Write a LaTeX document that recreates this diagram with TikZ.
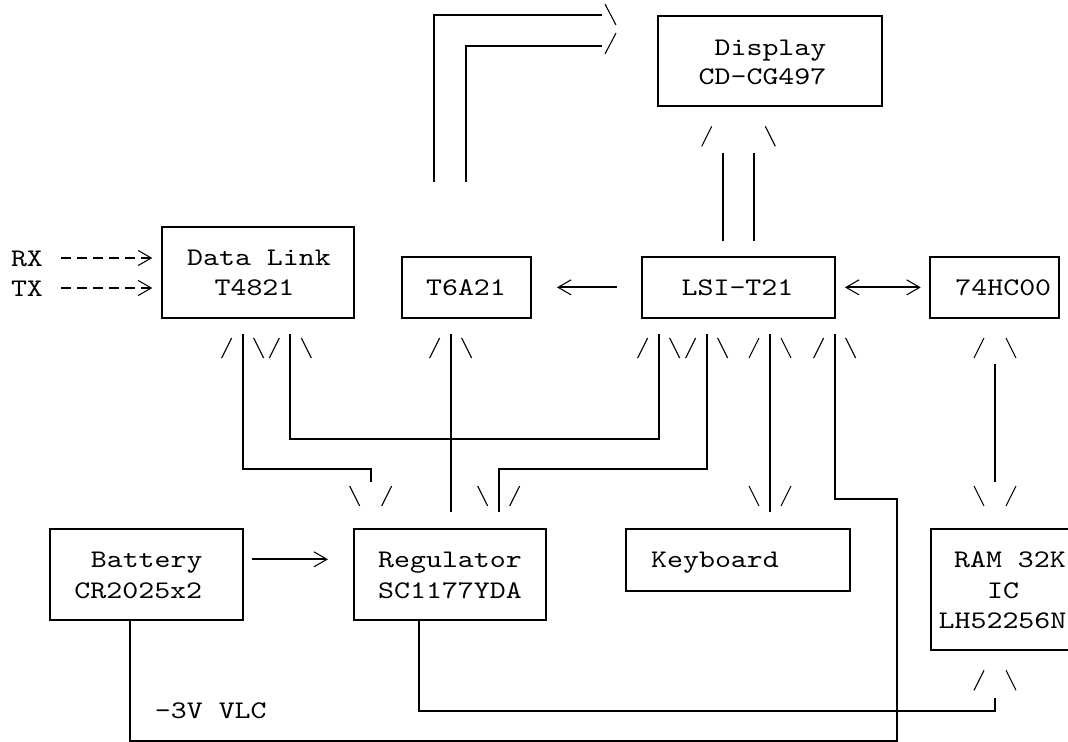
\documentclass[tikz,border=0pt]{standalone}
\usepackage{fontspec}
\newfontfamily\asciifont[Extension=.otf,FakeStretch=1.2]{lmmono10-regular}
\usetikzlibrary{fit,arrows.meta}
\tikzset{
 boxst/.style={draw, line width=1.5pt, inner sep=0pt, rectangle},
 wire/.style={draw, line width=1.5pt},
 slash/.style={line width=0.8pt},
 txt/.style={anchor=base, inner sep=0pt, font=\asciifont\fontsize{19pt}{22pt}\selectfont},
 chev/.tip={Straight Barb[length=9.75pt,width=11.25pt,line width=0.8pt]},
 dashwire/.style={line width=0.8pt, dash pattern=on 7.5pt off 4.5pt},
 uphead/.pic={\draw[slash] (-21,39.3) -- (-11,19.3) (11,19.3) -- (21,39.3);},
 widehead/.pic={\draw[slash] (-21,39.3) -- (-11,19.3) (#1+11,19.3) -- (#1+21,39.3);},
 dnhead/.pic={\draw[slash] (-21,-42) -- (-11,-22) (11,-22) -- (21,-42);},
}
\begin{document}
\begin{tikzpicture}[x=0.75pt,y=-0.75pt]
\useasboundingbox (0,0) rectangle (1068,742);
\clip (0,0) rectangle (1068,742);

% column / row helper coordinates
\coordinate (cA) at (242.7,0);
\coordinate (cB) at (290.3,0);
\coordinate (cC) at (370.7,0);
\coordinate (cT) at (450.7,0);
\coordinate (cD) at (498.7,0);
\coordinate (cE) at (658.7,0);
\coordinate (cF) at (706.7,0);
\coordinate (cG) at (770,0);
\coordinate (cH) at (834.7,0);
\coordinate (cI) at (897,0);
\coordinate (cJ) at (995,0);
\coordinate (cK) at (418.6,0);
\coordinate (cL) at (130.3,0);
\coordinate (cM) at (722.7,0);
\coordinate (cN) at (754.3,0);
\coordinate (yA) at (0,469.3);
\coordinate (yB) at (0,439);
\coordinate (yH) at (0,499);
\coordinate (yZ) at (0,740.5);
\coordinate (yK) at (0,711);
\coordinate (yR) at (0,559.3);
\coordinate (yRX) at (0,258);
\coordinate (yTX) at (0,288);

% boxes
\node[boxst, fit={(658.3,15.7) (882.3,106)}] (disp) {};
\node[boxst, fit={(162.3,226.7) (354.3,317.7)}] (dl) {};
\node[boxst, fit={(402.3,257) (530.7,317.7)}] (t6) {};
\node[boxst, fit={(642.3,257) (835,317.7)}] (lsi) {};
\node[boxst, fit={(930,257) (1059.3,317.7)}] (hc) {};
\node[boxst, fit={(50.3,529) (242.7,620)}] (bat) {};
\node[boxst, fit={(354,529) (546.4,620)}] (reg) {};
\node[boxst, fit={(626,529) (850,591)}] (kbd) {};
\node[boxst, fit={(930.7,529) (1080,650)}] (ram) {};

% texts
\node[txt] (tdisp1) at (770.5,55.5) {Display};
\node[txt] (tdisp2) at (762.5,84.5) {CD-CG497};
\node[txt] (tdl1) at (259,265.5) {Data Link};
\node[txt] (tdl2) at (254.5,295.5) {T4821};
\node[txt] (rx) at (27,266) {RX};
\node[txt] (tx) at (27,296) {TX};
\node[txt] (tt6) at (466,295) {T6A21};
\node[txt] (tlsi) at (737.5,295) {LSI-T21};
\node[txt] (thc) at (1003.3,295) {74HC00};
\node[txt] (tbat1) at (146.7,567.5) {Battery};
\node[txt] (tbat2) at (138.3,598) {CR2025x2};
\node[txt] (treg1) at (450,567.5) {Regulator};
\node[txt] (treg2) at (450,598) {SC1177YDA};
\node[txt] (tkbd) at (715,567.5) {Keyboard};
\node[txt] (tram1) at (1010,567.5) {RAM 32K};
\node[txt] (tram2) at (1003,598) {IC};
\node[txt] (tram3) at (1002.5,628.5) {LH52256N};
\node[txt] (tvlc) at (210.8,718.7) {-3V VLC};

% horizontal arrows
\draw[dashwire, -chev, shorten <=13.5pt, shorten >=6.75pt] (rx.east |- yRX) -- (dl.west |- yRX);
\draw[dashwire, -chev, shorten <=13.5pt, shorten >=6.75pt] (tx.east |- yTX) -- (dl.west |- yTX);
\draw[wire, -chev, shorten <=18.2pt, shorten >=19pt] (lsi.west) -- (t6.east);
\draw[wire, chev-chev, shorten <=6.75pt, shorten >=6.2pt] (lsi.east) -- (hc.west);
\draw[wire, -chev, shorten <=6pt, shorten >=18.75pt] (bat.east |- yR) -- (reg.west |- yR);

% top-left double line with free ends
\coordinate (tlo) at (434.3,182);
\coordinate (tloe) at (602,15.5);
\coordinate (tli) at (466,182);
\coordinate (tlie) at (602,45.7);
\draw[wire] (tlo) |- (tloe);
\draw[wire] (tli) |- (tlie);
\draw[slash] (605,4) -- (616,25) (605,54) -- (616,33);

% display <-> LSI double line
\draw[wire, shorten <=11.5pt, shorten >=34.3pt] (lsi.north -| cM) -- (disp.south -| cM);
\draw[wire, shorten <=11.5pt, shorten >=34.3pt] (lsi.north -| cN) -- (disp.south -| cN);
\pic at (disp.south -| cM) {widehead=31.6};

% Data Link <-> Regulator
\draw[wire, shorten <=11.5pt, shorten >=34.3pt] (dl.south -| cA) |- (cC |- yA) -- (reg.north -| cC);
\pic at (dl.south -| cA) {uphead};
\pic at (reg.north -| cC) {dnhead};

% Data Link <-> LSI
\draw[wire, shorten <=11.5pt, shorten >=11.5pt] (dl.south -| cB) |- (cE |- yB) -- (lsi.south -| cE);
\pic at (dl.south -| cB) {uphead};
\pic at (lsi.south -| cE) {uphead};

% Regulator -> T6A21
\draw[wire, shorten <=11.5pt, shorten >=11.8pt] (t6.south -| cT) -- (reg.north -| cT);
\pic at (t6.south -| cT) {uphead};

% LSI <-> Regulator
\draw[wire, shorten <=11.5pt, shorten >=11.8pt] (lsi.south -| cF) |- (cD |- yA) -- (reg.north -| cD);
\pic at (lsi.south -| cF) {uphead};
\pic at (reg.north -| cD) {dnhead};

% LSI <-> Keyboard
\draw[wire, shorten <=11.5pt, shorten >=11.8pt] (lsi.south -| cG) -- (kbd.north -| cG);
\pic at (lsi.south -| cG) {uphead};
\pic at (kbd.north -| cG) {dnhead};

% Battery -> LSI
\draw[wire, shorten <=11.5pt] (lsi.south -| cH) |- (cI |- yH) |- (cL |- yZ) -- (bat.south -| cL);
\pic at (lsi.south -| cH) {uphead};

% 74HC00 <-> RAM
\draw[wire, shorten <=34.2pt, shorten >=34.3pt] (hc.south -| cJ) -- (ram.north -| cJ);
\pic at (hc.south -| cJ) {uphead};
\pic at (ram.north -| cJ) {dnhead};

% Regulator -> RAM
\draw[wire, shorten >=35pt] (reg.south -| cK) |- (cJ |- yK) -- (ram.south -| cJ);
\pic at (ram.south -| cJ) {uphead};
\end{tikzpicture}
\end{document}
